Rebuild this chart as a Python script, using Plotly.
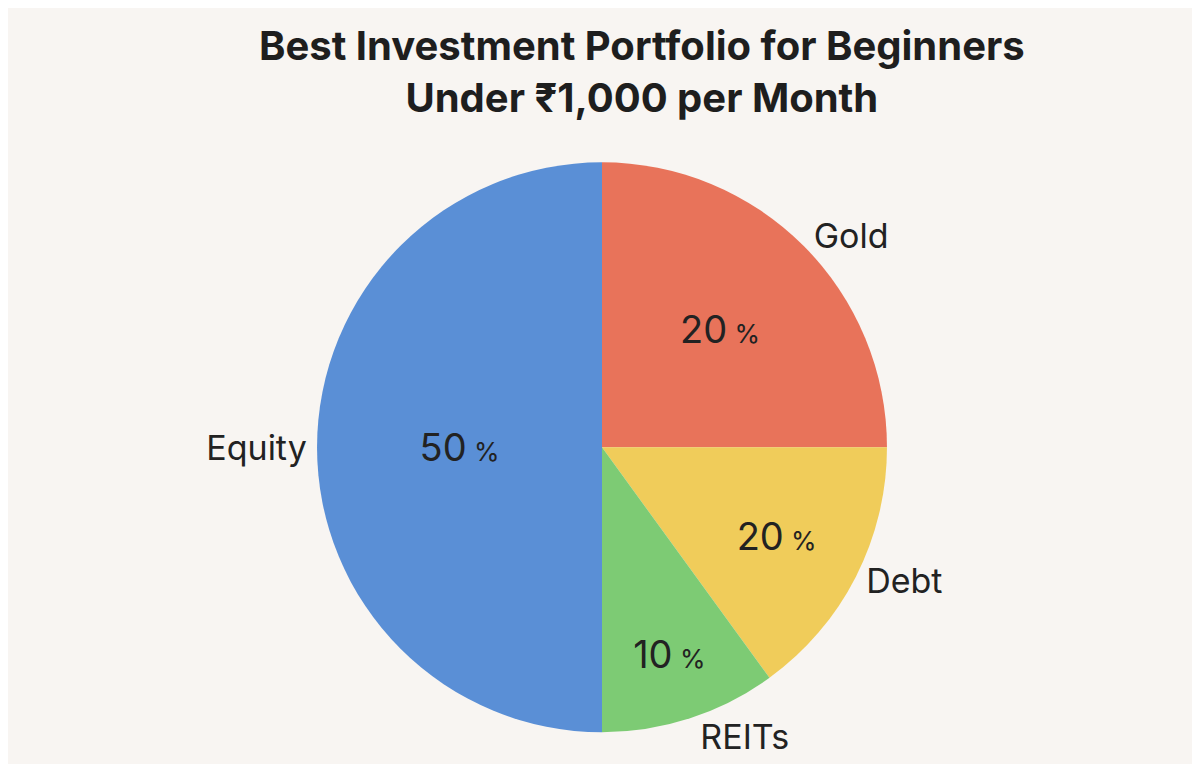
import plotly.graph_objects as go

categories = ["Gold", "Debt", "REITs", "Equity"]
slice_sizes = [25, 15, 10, 50]
pct_labels = ["20", "20", "10", "50"]
colors = ["#e8735a", "#f0cc5a", "#7dcb74", "#5a8fd6"]

inner_text = [f"{p}<span style='font-size:26px'> %</span>" for p in pct_labels]
dom = dict(x=[0.257, 0.733], y=[0.052, 0.798])

fig = go.Figure()
fig.add_trace(go.Pie(
    labels=categories, values=slice_sizes, sort=False, direction="clockwise", rotation=0,
    marker=dict(colors=colors, line=dict(width=0)),
    text=inner_text, textinfo="text", textposition="inside", insidetextorientation="horizontal",
    textfont=dict(family="Inter, Roboto, sans-serif", size=38, color="#222222"),
    domain=dom, showlegend=False, hoverinfo="label+percent"))
fig.add_trace(go.Pie(
    labels=categories, values=slice_sizes, sort=False, direction="clockwise", rotation=0,
    marker=dict(colors=["rgba(0,0,0,0)"] * 4, line=dict(width=0)),
    textinfo="label", textposition="outside",
    textfont=dict(family="Inter, Roboto, sans-serif", size=34, color="#222222"),
    domain=dom, showlegend=False, hoverinfo="skip"))

fig.update_layout(
    width=1200, height=764,
    paper_bgcolor="#f8f5f2", plot_bgcolor="#f8f5f2",
    margin=dict(l=0, r=0, t=0, b=0),
    annotations=[dict(
        text="<b>Best Investment Portfolio for Beginners<br>Under ₹1,000 per Month</b>",
        xref="paper", yref="paper", x=0.528, y=0.985, xanchor="center", yanchor="top",
        showarrow=False,
        font=dict(family="Inter, Roboto, sans-serif", size=40, color="#1e1e1e"))],
)
fig.write_html("out.html")
